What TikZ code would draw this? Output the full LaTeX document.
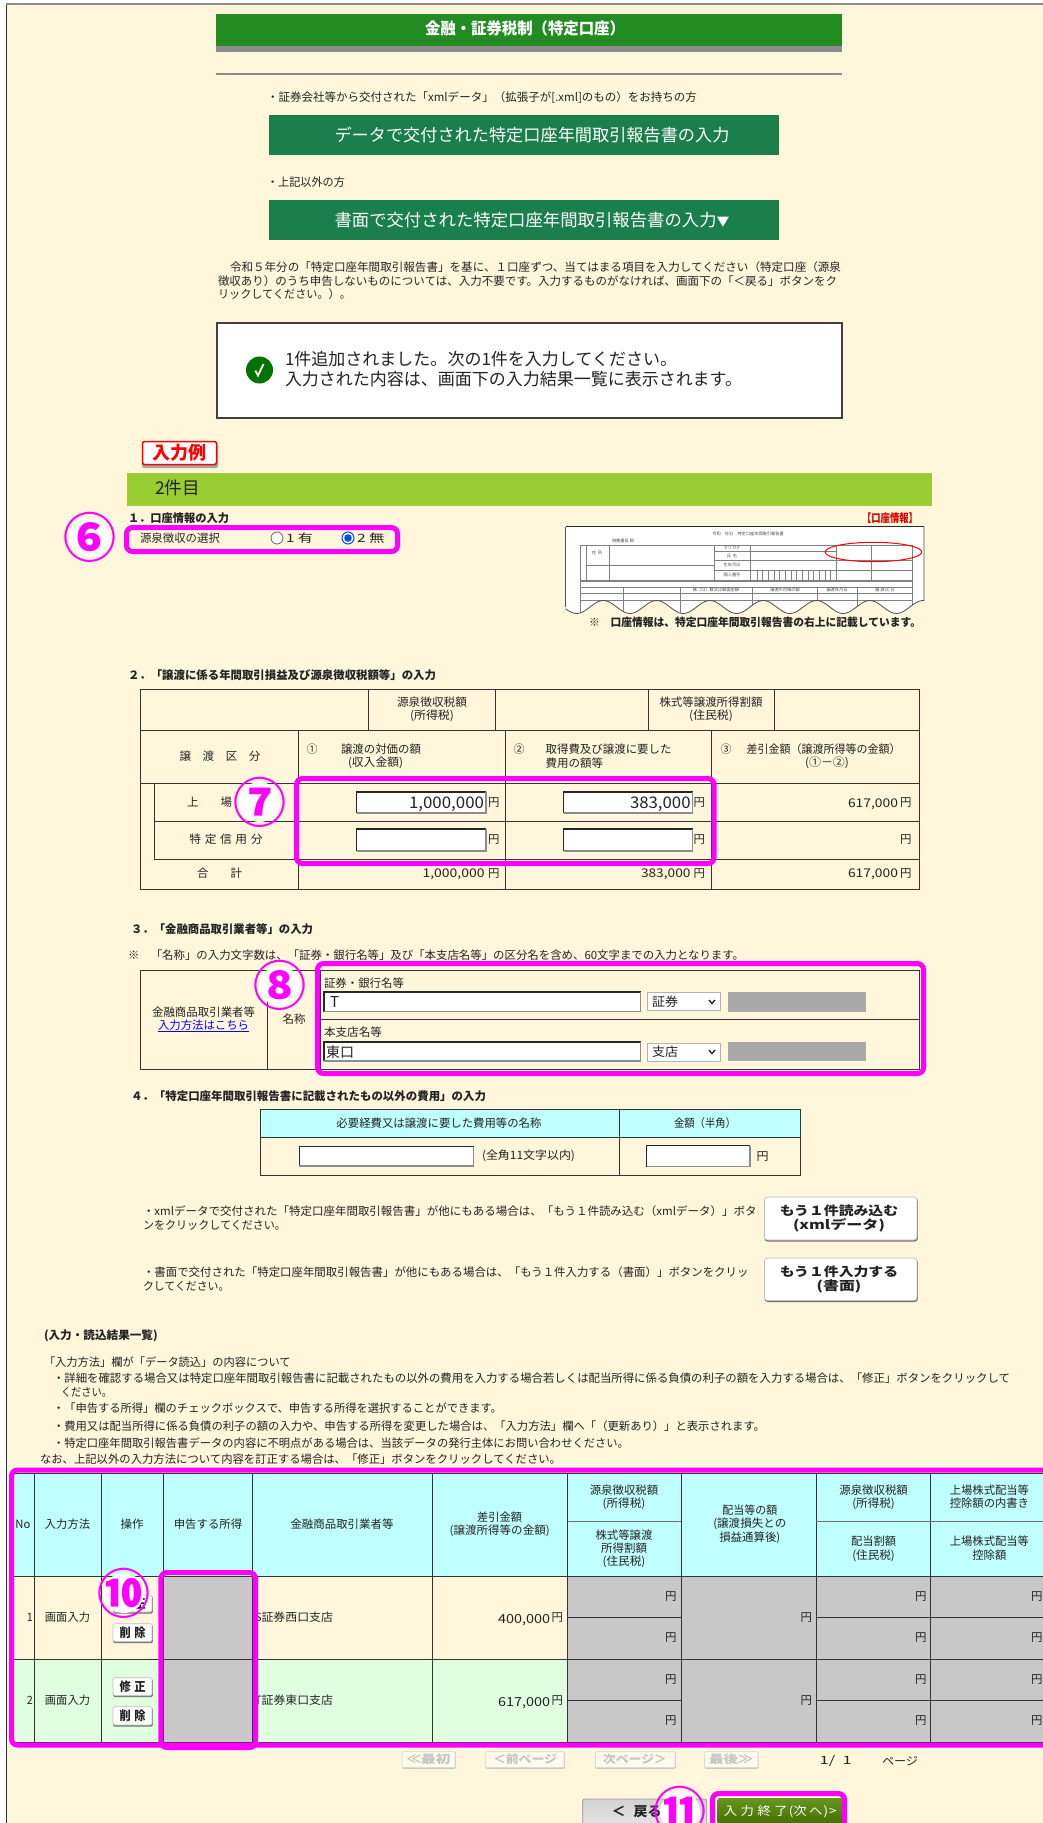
\documentclass[tikz,border=0pt]{standalone}
\usepackage{fontspec}
\usepackage{graphicx}
\setmainfont{Noto Sans CJK JP}
\definecolor{bgc}{HTML}{FFF6DB}
\definecolor{hgreen}{HTML}{228B22}
\definecolor{bgreen}{HTML}{1A7F4B}
\definecolor{hgray}{HTML}{8C8C8C}
\definecolor{lime}{HTML}{9ACD32}
\definecolor{cyanh}{HTML}{C0FFFF}
\definecolor{rowg}{HTML}{DFFFDF}
\definecolor{cellg}{HTML}{C8C8C8}
\definecolor{darkg}{HTML}{A9A9A9}
\definecolor{mag}{HTML}{FF00FF}
\definecolor{ink}{HTML}{222222}
\definecolor{tline}{HTML}{333333}
\definecolor{dis}{HTML}{C4C4C4}
\definecolor{oliveT}{HTML}{66961E}
\definecolor{oliveB}{HTML}{3F6D00}
\tikzset{
  txt/.style={inner sep=0pt,outer sep=0pt,text=ink},
  tline/.style={draw=tline,line width=1pt},
  mbox/.style={draw=mag,line width=5pt,rounded corners=6pt},
  markglyph/.style={inner sep=0pt,text=mag,font=\fontsize{53}{53}\selectfont\bfseries},
  thin/.style={draw=black!50,line width=.7pt},
  tiny/.style={inner sep=0pt,outer sep=0pt,text=black!70,font=\fontsize{4.2}{4.2}\selectfont}
}
% name, x, y, width, size, text
\newcommand\LT[6]{\node[txt,anchor=west] (#1) at (#2,#3) {\fontsize{#5}{#5}\selectfont\resizebox{#4pt}{\height}{\vphantom{漢}#6}};}
\newcommand\CT[6]{\node[txt,anchor=center] (#1) at (#2,#3) {\fontsize{#5}{#5}\selectfont\resizebox{#4pt}{\height}{\vphantom{漢}#6}};}
% input box
\newcommand\INBOX[4]{%
  \fill[white] (#1,#2) rectangle (#3,#4);
  \draw[black!85,line width=1.5pt] (#1,#4) -- (#1,#2) -- (#3,#2);
  \draw[black!45,line width=1.5pt] (#1,#4) -- (#3,#4) -- (#3,#2);}
\newcommand\BTN[5]{%
  \fill[black!55,rounded corners=#5] (#1,#2+1) rectangle (#3+.8,#4+1.5);
  \fill[white,draw=black!25,line width=.6pt,rounded corners=#5] (#1,#2) rectangle (#3,#4);}
\newcommand\DIS[4]{%
  \fill[black!30,rounded corners=1pt] (#1,#2) rectangle (#3+.5,#4+.8);
  \fill[bgc!60!white,draw=black!15,line width=.6pt,rounded corners=1pt] (#1,#2) rectangle (#3,#4);}
\newcommand\CMARK[4]{%
  \fill[white] (#2,#3) circle (20pt);
  \node[markglyph] (#1) at (#2,#3) {#4};}
\newcommand\THUMB{(565.7,526.7) -- plot[domain=565.7:924,samples=140] (\x,{607-6.5*cos((\x-603.3)*6.754)}) -- (924,526.7) -- cycle}
\begin{document}
\begin{tikzpicture}[x=1pt,y=-1pt]
\clip (0,0) rectangle (1043,1823);
\useasboundingbox (0,0) rectangle (1043,1823);
\fill[white] (0,0) rectangle (1043,1823);
\fill[bgc] (7,5) rectangle (1043,1823);
\draw[black!45,line width=1.2pt] (6,4) -- (1043,4);
\draw[black!80,line width=1.2pt] (6.6,4.6) -- (6.6,1823);

% header
\fill[hgreen] (216,13.5) rectangle (842,46);
\fill[hgray] (216,46) rectangle (842,51.5);
\CT{title}{525}{28.5}{200}{16}{\bfseries\color{white}金融・証券税制（特定口座）}
\fill[hgray] (216,73) rectangle (842,74.6);

\LT{intro1}{267}{98}{430}{11.5}{・証券会社等から交付された「xmlデータ」（拡張子が[.xml]のもの）をお持ちの方}
\fill[bgreen] (269,115) rectangle (779,155);
\CT{btn1}{532}{135}{395}{17}{\color{white}データで交付された特定口座年間取引報告書の入力}
\LT{intro2}{267}{182}{78}{11.5}{・上記以外の方}
\fill[bgreen] (269,200) rectangle (779,240);
\CT{btn2}{532}{220}{395}{17}{\color{white}書面で交付された特定口座年間取引報告書の入力{\fontsize{12.5}{12.5}\selectfont ▼}}
\LT{para1}{230}{267}{611}{11.5}{令和５年分の「特定口座年間取引報告書」を基に、１口座ずつ、当てはまる項目を入力してください（特定口座（源泉}
\LT{para2}{218}{281}{619}{11.5}{徴収あり）のうち申告しないものについては、入力不要です。入力するものがなければ、画面下の「＜戻る」ボタンをク}
\LT{para3}{218}{294}{133}{11.5}{リックしてください。）。}

% message
\draw[fill=white,draw=black!75,line width=2pt] (216.5,323) rectangle (841.5,417.5);
\fill[green!45!black!100] (259.5,370) circle (13.5pt);
\draw[white,line width=1.8pt] (255.3,370.5) -- (258,375.5) -- (263.5,364);
\LT{msg1}{285}{359}{392}{17}{1件追加されました。次の1件を入力してください。}
\LT{msg2}{285}{379}{457}{17}{入力された内容は、画面下の入力結果一覧に表示されます。}

% example tag
\fill[black!35,rounded corners=2pt] (142,444) rectangle (218,468);
\draw[fill=white,draw=red,line width=1.5pt,rounded corners=2pt] (142.5,441.5) rectangle (216.5,464.5);
\CT{ex}{179}{452.5}{54}{18}{\bfseries\color{red}入力例}

% lime bar
\fill[lime] (126.5,473) rectangle (932,506);
\LT{ken}{155}{488}{45}{17.5}{2件目}

% section 1
\LT{s1}{128}{518}{101}{11.4}{\bfseries １．口座情報の入力}
\LT{koza}{862}{518}{56}{11.4}{\bfseries\color{red!85!black}【口座情報】}
\LT{sel}{140}{538}{80}{11.4}{源泉徴収の選択}
\draw[black!60,line width=.8pt,fill=white] (277,538) circle (6pt);
\LT{r1}{286}{538}{27}{11.4}{1 有}
\draw[blue!70!cyan,line width=1pt,fill=white] (348,538) circle (6pt);
\fill[blue!70!cyan] (348,538) circle (3.8pt);
\LT{r2}{357}{538}{27.6}{11.4}{2 無}

% thumbnail
\fill[white] \THUMB;
\begin{scope}
\clip \THUMB;
\draw[thin] (580,545) rectangle (912.7,580);
\draw[thin] (580,581.7) rectangle (912.7,625);
\foreach \vx in {586,609.3,714,750.7,836,871.7} {\draw[thin] (\vx,545) -- (\vx,580);}
\draw[thin] (714,551.7) -- (836,551.7);
\draw[thin] (714,560) -- (912.7,560);
\draw[thin] (714,570) -- (912.7,570);
\draw[thin] (586,565) -- (714,565);
\foreach \vx in {757,762.7,768.4,774,779.7,785.4,791,796.7,802.4,808,813.7,819.4,825,830.7} {\draw[thin] (\vx,570) -- (\vx,580);}
\draw[thin] (580,587) -- (912.7,587);
\draw[thin] (580,593) -- (912.7,593);
\draw[thin] (580,600) -- (912.7,600);
\foreach \vx in {623,680.7,752.7,817.3,857.7} {\draw[thin] (\vx,587) -- (\vx,625);}
\end{scope}
\draw[black!85,line width=1pt] (565.7,526.7) -- (924,526.7);
\draw[black!70,line width=.8pt] plot[domain=565.7:924,samples=140] (\x,{607-6.5*cos((\x-603.3)*6.754)}) -- (924,526.7);
\draw[black!70,line width=.8pt] (565.7,607) -- (565.7,526.7);
\node[tiny] (th1) at (748,534) {令和\quad 年分\quad 特定口座年間取引報告書};
\node[tiny] (th2) at (623,540.7) {税務署長\ 殿};
\node[tiny] (th3) at (597,553) {住\ \ 所};
\node[tiny] (th4) at (732,556) {氏\ \ 名};
\node[tiny] (th5) at (732,565) {生年月日};
\node[tiny] (th6) at (732,575) {個人番号};
\node[tiny] (th7) at (732,548) {フリガナ};
\node[tiny] (th8) at (716,590) {株（口）数又は額面金額};
\node[tiny] (th9) at (785,590) {譲渡の対価の額};
\node[tiny] (th10) at (837,590) {譲渡年月日};
\node[tiny] (th11) at (885,590) {譲\ 渡\ 区\ 分};
\draw[red,line width=1pt] (873.4,552) ellipse (48.3pt and 9.7pt);
\LT{note1}{589}{622}{332}{11}{\bfseries ※\quad 口座情報は、特定口座年間取引報告書の右上に記載しています。}

% section 2
\LT{s2}{128}{675}{308}{11.4}{\bfseries ２．「譲渡に係る年間取引損益及び源泉徴収税額等」の入力}
\draw[tline] (140.4,689.7) rectangle (919,889);
\draw[tline] (140.4,730) -- (919,730);
\draw[tline] (140.4,783) -- (919,783);
\draw[tline] (154,821) -- (919,821);
\draw[tline] (154,859) -- (919,859);
\draw[tline] (154,783) -- (154,859);
\foreach \vx in {368.6,495,648.7,774.5} {\draw[tline] (\vx,689.7) -- (\vx,730);}
\foreach \vx in {298,505,711} {\draw[tline] (\vx,730) -- (\vx,889);}
\CT{t2a}{432}{702}{70}{11.4}{源泉徴収税額}
\CT{t2b}{432}{716}{44}{11.4}{(所得税)}
\CT{t2c}{711}{702}{103}{11.4}{株式等譲渡所得割額}
\CT{t2d}{711}{716}{44}{11.4}{(住民税)}
\CT{t2e}{220}{756}{81}{11.4}{譲　渡　区　分}
\CT{t2f}{312}{749}{11}{11.4}{①}
\LT{t2g}{341}{749}{80}{11.4}{譲渡の対価の額}
\LT{t2h}{348}{763}{55}{11.4}{(収入金額)}
\CT{t2i}{519}{749}{11}{11.4}{②}
\LT{t2j}{545.6}{749}{126}{11.4}{取得費及び譲渡に要した}
\LT{t2k}{545.6}{763}{57.5}{11.4}{費用の額等}
\CT{t2l}{726}{749}{11}{11.4}{③}
\LT{t2m}{746.5}{749}{154}{11.4}{差引金額（譲渡所得等の金額）}
\CT{t2n}{827}{763}{44}{11.4}{(①－②)}
\CT{t2o}{209.5}{802}{45}{11.4}{上\kern22pt 場}
\CT{t2p}{226}{839}{73}{11.4}{特\kern3.5pt 定\kern3.5pt 信\kern3.5pt 用\kern3.5pt 分}
\CT{t2q}{219.5}{873}{45}{11.4}{合\kern22pt 計}
\INBOX{356.6}{792}{486}{813}
\INBOX{563.5}{792}{692.6}{813}
\INBOX{356.6}{829}{486}{851}
\INBOX{563.5}{829}{692.6}{851}
\LT{v1}{409}{803}{75}{16}{1,000,000}
\LT{v2}{630}{803}{60.6}{16}{383,000}
\LT{y1}{488}{802}{11.4}{11.4}{円}
\LT{y2}{693.5}{802}{11.4}{11.4}{円}
\LT{y3}{488}{839}{11.4}{11.4}{円}
\LT{y4}{693.5}{839}{11.4}{11.4}{円}
\LT{v3}{848}{804}{50}{12}{617,000}
\LT{y5}{900}{802}{11.4}{11.4}{円}
\LT{y6}{900}{839}{11.4}{11.4}{円}
\LT{v4}{422.5}{874}{62}{12}{1,000,000}
\LT{y7}{488}{873}{11.4}{11.4}{円}
\LT{v5}{641}{874}{49.5}{12}{383,000}
\LT{y8}{693.5}{873}{11.4}{11.4}{円}
\LT{v6}{848}{874}{50}{12}{617,000}
\LT{y9}{900}{873}{11.4}{11.4}{円}

% section 3
\LT{s3}{131}{929}{182}{11.4}{\bfseries ３．「金融商品取引業者等」の入力}
\LT{n3}{128}{955}{616}{11.4}{※\quad 「名称」の入力文字数は、「証券・銀行名等」及び「本支店名等」の区分名を含め、60文字までの入力となります。}
\draw[tline] (140.4,970) rectangle (919,1069.7);
\draw[tline] (267,970) -- (267,1069.7);
\draw[tline] (320.7,970) -- (320.7,1069.7);
\draw[tline] (320.7,1019) -- (919,1019);
\CT{t3a}{203.6}{1011.7}{103}{11.4}{金融商品取引業者等}
\CT{t3b}{203.6}{1026}{91}{11.4}{\color{blue}\underline{入力方法はこちら}}
\CT{t3c}{294}{1018.7}{23}{11.4}{名称}
\LT{t3d}{324}{983}{80}{11.4}{証券・銀行名等}
\INBOX{324}{992}{640.7}{1011.7}
\LT{t3e}{330}{1002}{9}{15}{T}
\fill[white,draw=black!30,line width=.8pt] (647.4,992.7) rectangle (720.6,1010.7);
\LT{t3f}{652}{1002}{26}{12.5}{証券}
\draw[black!85,line width=1.4pt] (709,1000) -- (712,1003.5) -- (715,1000);
\fill[darkg] (728,991.7) rectangle (866,1011.7);
\LT{t3g}{324}{1032}{58}{11.4}{本支店名等}
\INBOX{324}{1042}{640.7}{1061}
\LT{t3h}{326}{1052}{28}{14}{東口}
\fill[white,draw=black!30,line width=.8pt] (647.4,1043) rectangle (720.6,1061);
\LT{t3i}{652}{1052}{26}{12.5}{支店}
\draw[black!85,line width=1.4pt] (709,1050) -- (712,1053.5) -- (715,1050);
\fill[darkg] (728,1042) rectangle (866,1061);

% section 4
\LT{s4}{131}{1096}{355}{11.4}{\bfseries ４．「特定口座年間取引報告書に記載されたもの以外の費用」の入力}
\fill[cyanh] (260.8,1109.7) rectangle (800,1137);
\draw[tline] (260.8,1109.7) rectangle (800,1175);
\draw[tline] (260.8,1137) -- (800,1137);
\draw[tline] (619.4,1109.7) -- (619.4,1175);
\CT{t4a}{439}{1122.7}{205}{11.4}{必要経費又は譲渡に要した費用等の名称}
\CT{t4b}{705}{1122.7}{62}{11.4}{金額（半角）}
\INBOX{299.4}{1146.7}{473.7}{1166}
\LT{t4c}{482}{1155.7}{93}{11.4}{(全角11文字以内)}
\INBOX{646.7}{1145.7}{750}{1166.7}
\LT{t4d}{756.5}{1156}{12}{11.4}{円}

% paragraphs and buttons
\LT{p1}{143}{1211}{613.5}{11.4}{・xmlデータで交付された「特定口座年間取引報告書」が他にもある場合は、「もう１件読み込む（xmlデータ）」ボタ}
\LT{p2}{143}{1225}{143}{11.4}{ンをクリックしてください。}
\BTN{764.5}{1197}{917}{1240}{3pt}
\CT{b1a}{839}{1210.7}{118.4}{12.5}{\bfseries もう１件読み込む}
\CT{b1b}{839}{1225.5}{92}{12.5}{\bfseries (xmlデータ)}
\LT{p3}{143}{1271.7}{605.5}{11.4}{・書面で交付された「特定口座年間取引報告書」が他にもある場合は、「もう１件入力する（書面）」ボタンをクリッ}
\LT{p4}{143}{1285.7}{86.5}{11.4}{クしてください。}
\BTN{764.5}{1258}{917}{1300.5}{3pt}
\CT{b2a}{839}{1271.7}{118.4}{12.5}{\bfseries もう１件入力する}
\CT{b2b}{839}{1286.5}{44.6}{12.5}{\bfseries (書面)}

% list
\LT{l0}{44}{1335.7}{113.7}{11.4}{\bfseries (入力・読込結果一覧)}
\LT{l1}{44}{1362}{246.7}{11.4}{「入力方法」欄が「データ読込」の内容について}
\LT{l2}{53}{1378}{957}{11.4}{・詳細を確認する場合又は特定口座年間取引報告書に記載されたもの以外の費用を入力する場合若しくは配当所得に係る負債の利子の額を入力する場合は、「修正」ボタンをクリックして}
\LT{l3}{61}{1391.7}{51}{11.4}{ください。}
\LT{l4}{53}{1408}{449}{11.4}{・「申告する所得」欄のチェックボックスで、申告する所得を選択することができます。}
\LT{l5}{53}{1426}{712}{11.4}{・費用又は配当所得に係る負債の利子の額の入力や、申告する所得を変更した場合は、「入力方法」欄へ「（更新あり）」と表示されます。}
\LT{l6}{53}{1443}{576}{11.4}{・特定口座年間取引報告書データの内容に不明点がある場合は、当該データの発行主体にお問い合わせください。}
\LT{l7}{40}{1458.7}{521}{11.4}{なお、上記以外の入力方法について内容を訂正する場合は、「修正」ボタンをクリックしてください。}

% big table
\fill[cyanh] (12,1473.7) rectangle (1043,1576.3);
\fill[rowg] (12,1659.3) rectangle (1043,1742.7);
\fill[cellg] (163.7,1576.3) rectangle (252,1742.7);
\fill[cellg] (567.5,1576.3) rectangle (1043,1742.7);
\draw[tline] (12,1473.7) -- (1043,1473.7);
\draw[tline] (12,1576.3) -- (1043,1576.3);
\draw[tline] (12,1659.3) -- (1043,1659.3);
\draw[tline] (12,1742.7) -- (1043,1742.7);
\foreach \vx in {34,101,163.7,252,432.5,567.5,681.3,816.4,930.8} {\draw[tline] (\vx,1473.7) -- (\vx,1742.7);}
\draw[black!55,line width=1.5pt] (567.5,1521.7) -- (681.3,1521.7);
\draw[black!55,line width=1.5pt] (816.4,1521.7) -- (1043,1521.7);
\foreach \ly in {1617.3,1700.3} {
  \draw[tline] (567.5,\ly) -- (681.3,\ly);
  \draw[tline] (816.4,\ly) -- (1043,\ly);
}
\CT{h1}{23}{1524}{15}{11.4}{No}
\CT{h2}{67.5}{1524}{45}{11.4}{入力方法}
\CT{h3}{132}{1524}{23}{11.4}{操作}
\CT{h4}{208}{1524}{68.5}{11.4}{申告する所得}
\CT{h5}{342}{1524}{103}{11.4}{金融商品取引業者等}
\CT{h6}{499.7}{1516.7}{45}{11.4}{差引金額}
\CT{h7}{499.7}{1531}{100}{11.4}{(譲渡所得等の金額)}
\CT{h8}{624}{1490}{68.5}{11.4}{源泉徴収税額}
\CT{h9}{624}{1503.7}{42.6}{11.4}{(所得税)}
\CT{h10}{624}{1534.7}{57}{11.4}{株式等譲渡}
\CT{h11}{624}{1548}{46}{11.4}{所得割額}
\CT{h12}{624}{1561.7}{42.6}{11.4}{(住民税)}
\CT{h13}{749.8}{1510.3}{55}{11.4}{配当等の額}
\CT{h14}{749.8}{1524}{73}{11.4}{(譲渡損失との}
\CT{h15}{749.8}{1537.3}{61}{11.4}{損益通算後)}
\CT{h16}{873.6}{1490}{68.5}{11.4}{源泉徴収税額}
\CT{h17}{873.6}{1503.7}{42.6}{11.4}{(所得税)}
\CT{h18}{873.6}{1540.7}{45}{11.4}{配当割額}
\CT{h19}{873.6}{1555.3}{42.6}{11.4}{(住民税)}
\CT{h20}{989.4}{1490}{79}{11.4}{上場株式配当等}
\CT{h21}{989.4}{1503}{79}{11.4}{控除額の内書き}
\CT{h22}{989.4}{1540.7}{79}{11.4}{上場株式配当等}
\CT{h23}{989.4}{1555}{34}{11.4}{控除額}

\CT{r1a}{30}{1617}{6}{11.4}{1}
\CT{r1b}{67.5}{1617}{45}{11.4}{画面入力}
\CT{r2a}{30}{1700}{6}{11.4}{2}
\CT{r2b}{67.5}{1700}{45}{11.4}{画面入力}
\BTN{113}{1595}{152}{1612}{1.5pt}
\CT{m1}{132.5}{1603.5}{26}{12.5}{\bfseries 修\kern4pt 正}
\BTN{113}{1623.7}{152}{1641.7}{1.5pt}
\CT{d1}{132.5}{1632.7}{26}{12.5}{\bfseries 削\kern4pt 除}
\BTN{113}{1677.7}{152}{1695.7}{1.5pt}
\CT{m2}{132.5}{1686.7}{26}{12.5}{\bfseries 修\kern4pt 正}
\BTN{113}{1706.7}{152}{1725}{1.5pt}
\CT{d2}{132.5}{1715.8}{26}{12.5}{\bfseries 削\kern4pt 除}
\LT{c1}{254.5}{1617}{78.5}{11.4}{S証券西口支店}
\LT{c2}{254.5}{1700}{78.5}{11.4}{T証券東口支店}
\LT{a1}{498}{1619}{52}{12.5}{400,000}
\LT{a2}{551.6}{1617}{11.4}{11.4}{円}
\LT{a3}{498}{1702}{52}{12.5}{617,000}
\LT{a4}{551.6}{1700}{11.4}{11.4}{円}
\foreach \xx/\nn in {665/p,915/q,1031/s} {
  \LT{\nn a}{\xx}{1596}{11.4}{11.4}{円}
  \LT{\nn b}{\xx}{1637.3}{11.4}{11.4}{円}
  \LT{\nn c}{\xx}{1679}{11.4}{11.4}{円}
  \LT{\nn d}{\xx}{1720}{11.4}{11.4}{円}
}
\LT{ha}{800.5}{1617}{11.4}{11.4}{円}
\LT{hb}{800.5}{1699.7}{11.4}{11.4}{円}

% pager
\DIS{402}{1751.7}{455}{1767.7}
\CT{g1}{428.5}{1759.5}{44}{11.4}{\color{dis}\bfseries ≪最初}
\DIS{485.7}{1751.7}{564}{1767.7}
\CT{g2}{525}{1759.5}{64}{11.4}{\color{dis}\bfseries ＜前ページ}
\DIS{595.5}{1751.7}{675}{1767.7}
\CT{g3}{635}{1759.5}{64}{11.4}{\color{dis}\bfseries 次ページ＞}
\DIS{704.6}{1751.7}{757.8}{1767.7}
\CT{g4}{731}{1759.5}{44}{11.4}{\color{dis}\bfseries 最後≫}
\LT{g5}{819.7}{1761}{32}{11.4}{1/\kern5pt 1}
\LT{g6}{882}{1761}{36}{11.4}{ページ}

% bottom buttons
\shade[top color=black!18,bottom color=black!6,draw=black!40,line width=.8pt,rounded corners=2pt] (582.7,1799) rectangle (706.7,1840);
\LT{back}{611.5}{1811.7}{50}{13.5}{\bfseries ＜\kern8pt 戻る}
\shade[top color=oliveT,bottom color=oliveB,rounded corners=2pt] (717.7,1798) rectangle (842.7,1826);
\CT{next}{780.3}{1811.7}{112.7}{12}{\color{white}入\kern3pt 力\kern3pt 終\kern3pt 了\kern1pt(次\kern2pt へ\kern1pt)\kern1pt>}

% magenta highlights
\draw[mbox] (126.5,527.5) rectangle (397.5,551.5);
\draw[mbox] (296.5,778.5) rectangle (714,863.5);
\draw[mbox] (317.5,963.5) rectangle (923.5,1073.5);
\draw[mbox] (11.5,1470) rectangle (1060,1745);
\draw[mbox] (160.9,1572.5) rectangle (255.5,1747.5);
\draw[mbox] (712.5,1793.5) rectangle (844.5,1840);
\CMARK{c6}{90}{537}{⑥}
\CMARK{c7}{259.5}{802}{⑦}
\CMARK{c8}{279.5}{985.7}{⑧}
\CMARK{c10}{123.8}{1593}{⑩}
\CMARK{c11}{680}{1811.7}{⑪}
\end{tikzpicture}
\end{document}
